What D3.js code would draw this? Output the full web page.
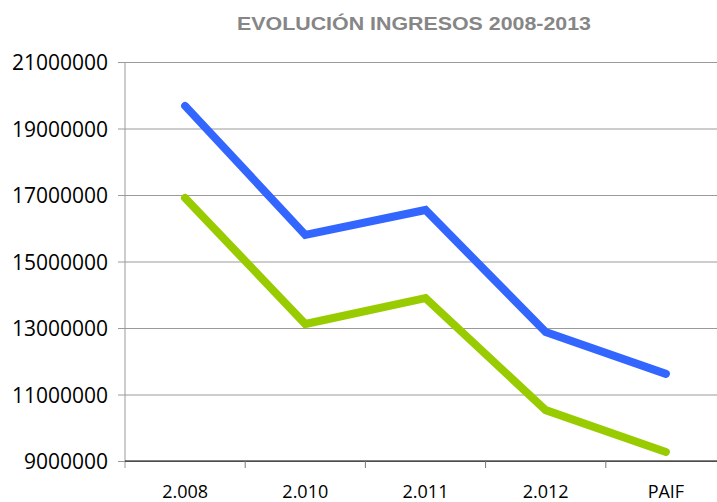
<!DOCTYPE html>
<html>
<head>
<meta charset="utf-8">
<title>Evolución ingresos 2008-2013</title>
<script src="https://cdn.jsdelivr.net/npm/d3@7"></script>
<style>
  body { margin: 0; background: #fff; }
  svg { display: block; }
</style>
</head>
<body>
<div id="chart"></div>
<script>
// data
var categories = ["2.008", "2.010", "2.011", "2.012", "PAIF"];
var serieAzul  = [19680000, 15800000, 16550000, 12880000, 11620000];
var serieVerde = [16910000, 13120000, 13900000, 10530000, 9270000];
var yTicks = [9000000, 11000000, 13000000, 15000000, 17000000, 19000000, 21000000];

var width = 717, height = 502;
var plotLeft = 125, plotTop = 62, plotBottom = 461;

var svg = d3.select("#chart").append("svg")
    .attr("width", width)
    .attr("height", height);

var x = d3.scaleBand().domain(categories).range([plotLeft, plotLeft + 5 * 120.2]).padding(0);
var y = d3.scaleLinear().domain([9000000, 21000000]).range([plotBottom, plotTop]);

// title
svg.append("text")
    .attr("x", 237)
    .attr("y", 30)
    .attr("textLength", 354)
    .attr("lengthAdjust", "spacingAndGlyphs")
    .style("font-family", "'Liberation Sans', Arial, sans-serif")
    .style("font-weight", "bold")
    .style("font-size", "19px")
    .style("fill", "#868686")
    .text("EVOLUCIÓN INGRESOS 2008-2013");

// horizontal gridlines + left ticks
var yAxis = d3.axisLeft(y)
    .tickValues(yTicks)
    .tickSize(-(width - plotLeft + 10))
    .tickPadding(17)
    .tickFormat(d3.format("d"));

var gy = svg.append("g")
    .attr("transform", "translate(" + plotLeft + ",0)")
    .call(yAxis);
gy.select(".domain").remove();
gy.selectAll(".tick line")
    .attr("x1", -7)
    .attr("stroke", "#9a9a9a")
    .attr("stroke-width", 1);
gy.selectAll(".tick text")
    .attr("x", -17)
    .attr("dy", "0.36em")
    .style("font-family", "'Open Sans', 'Liberation Sans', sans-serif")
    .style("font-size", "21px")
    .style("fill", "#000");

// vertical axis line
svg.append("line")
    .attr("x1", plotLeft).attr("x2", plotLeft)
    .attr("y1", plotTop).attr("y2", plotBottom + 7)
    .attr("stroke", "#9a9a9a");

// bottom axis
var xAxis = d3.axisBottom(x).tickSize(0).tickPadding(0);
var gx = svg.append("g")
    .attr("transform", "translate(0," + plotBottom + ")")
    .call(xAxis);
gx.select(".domain")
    .attr("d", "M" + plotLeft + ",0H" + (width + 10))
    .attr("stroke", "#000");
gx.selectAll(".tick text")
    .attr("y", 37)
    .attr("dy", 0)
    .style("font-family", "'Open Sans', 'Liberation Sans', sans-serif")
    .style("font-size", "18px")
    .style("fill", "#000");

// category separators below the axis
svg.selectAll(".sep")
    .data(categories.slice(1))
    .enter()
    .append("line")
    .attr("class", "sep")
    .attr("x1", function(d) { return x(d); })
    .attr("x2", function(d) { return x(d); })
    .attr("y1", plotBottom)
    .attr("y2", plotBottom + 7)
    .attr("stroke", "#777");

var line = d3.line()
    .x(function(d, i) { return x(categories[i]) + x.bandwidth() / 2; })
    .y(function(d) { return y(d); });

svg.append("path")
    .datum(serieVerde)
    .attr("d", line)
    .attr("fill", "none")
    .attr("stroke", "#99cc00")
    .attr("stroke-width", 8)
    .attr("stroke-linecap", "round")
    .attr("stroke-linejoin", "miter");

svg.append("path")
    .datum(serieAzul)
    .attr("d", line)
    .attr("fill", "none")
    .attr("stroke", "#3366ff")
    .attr("stroke-width", 8)
    .attr("stroke-linecap", "round")
    .attr("stroke-linejoin", "miter");
</script>
</body>
</html>
